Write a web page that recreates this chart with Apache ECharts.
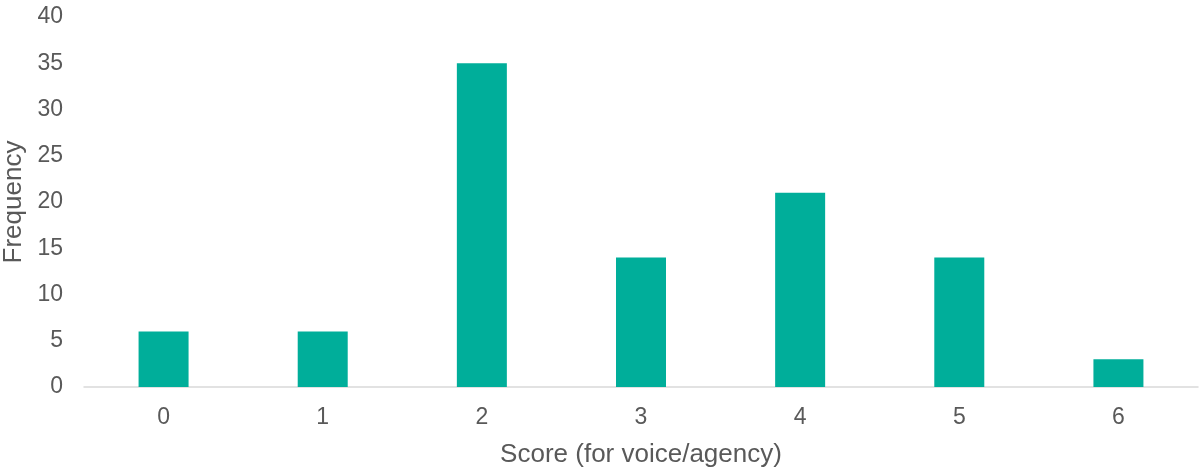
<!DOCTYPE html>
<html>
<head>
<meta charset="utf-8">
<script src="https://cdn.jsdelivr.net/npm/echarts@6/dist/echarts.min.js"></script>
<style>
  html, body { margin: 0; padding: 0; background: #ffffff; }
  #chart { width: 1199px; height: 470px; }
</style>
</head>
<body>
<div id="chart"></div>
<script>
// Score distribution for voice/agency
const scores = ['0', '1', '2', '3', '4', '5', '6'];
const frequency = [6, 6, 35, 14, 21, 14, 3];
const yTicks = { min: 0, max: 40, interval: 5 };

const textColor = '#595959';
const fontFamily = '"Liberation Sans", Arial, sans-serif';

const chart = echarts.init(document.getElementById('chart'), null, { renderer: 'canvas' });
chart.setOption({
  animation: false,
  grid: { left: 84, right: 1, top: 17, bottom: 83, containLabel: false, outerBoundsMode: 'none' },
  xAxis: {
    type: 'category',
    data: scores,
    name: 'Score (for voice/agency)',
    nameLocation: 'middle',
    nameGap: 55,
    nameTextStyle: { color: textColor, fontSize: 26, fontFamily: fontFamily },
    axisLine: { show: true, lineStyle: { color: '#d9d9d9', width: 1.5 } },
    axisTick: { show: false },
    axisLabel: { color: textColor, fontSize: 23, fontFamily: fontFamily, margin: 19 },
    splitLine: { show: false }
  },
  yAxis: {
    type: 'value',
    min: yTicks.min,
    max: yTicks.max,
    interval: yTicks.interval,
    name: 'Frequency',
    nameLocation: 'middle',
    nameGap: 56,
    nameRotate: 90,
    nameTextStyle: { color: textColor, fontSize: 26, fontFamily: fontFamily },
    axisLine: { show: false },
    axisTick: { show: false },
    axisLabel: { color: textColor, fontSize: 23, fontFamily: fontFamily, margin: 21 },
    splitLine: { show: false }
  },
  series: [{
    type: 'bar',
    data: frequency,
    barWidth: 50,
    itemStyle: { color: '#00ae9a' }
  }]
});
</script>
</body>
</html>
